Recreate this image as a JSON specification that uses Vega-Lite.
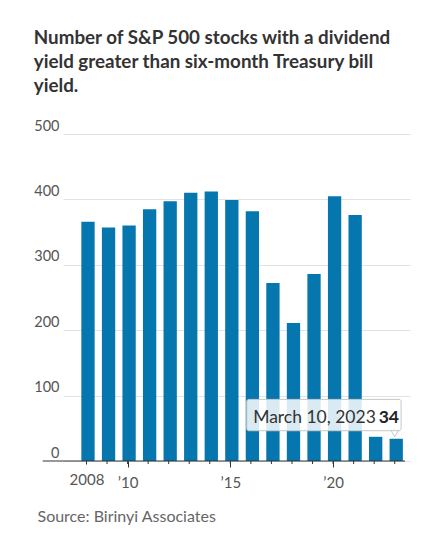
{
  "$schema": "https://vega.github.io/schema/vega-lite/v6.json",
  "width": 347,
  "height": 327,
  "autosize": {"type": "none"},
  "padding": {"left": 63, "right": 21, "top": 134, "bottom": 82},
  "background": "white",
  "title": {
    "text": ["Number of S&P 500 stocks with a dividend", "yield greater than six-month Treasury bill", "yield."],
    "anchor": "start",
    "frame": "bounds",
    "font": "Lato",
    "fontSize": 18.8,
    "fontWeight": "bold",
    "color": "#333333",
    "lineHeight": 24,
    "offset": 22
  },
  "config": {"view": {"stroke": null}},
  "datasets": {
    "bars": [
      {"year": 2008, "count": 366},
      {"year": 2009, "count": 357},
      {"year": 2010, "count": 360},
      {"year": 2011, "count": 385},
      {"year": 2012, "count": 397},
      {"year": 2013, "count": 410},
      {"year": 2014, "count": 412},
      {"year": 2015, "count": 399},
      {"year": 2016, "count": 382},
      {"year": 2017, "count": 272},
      {"year": 2018, "count": 211},
      {"year": 2019, "count": 286},
      {"year": 2020, "count": 405},
      {"year": 2021, "count": 376},
      {"year": 2022, "count": 37},
      {"year": 2023, "count": 34}
    ],
    "note": [{"label": "March 10, 2023", "value": "34"}]
  },
  "layer": [
    {
      "data": {"name": "bars"},
      "mark": {"type": "bar", "width": 13.3, "color": "#0676ae", "xOffset": 1.5},
      "encoding": {
        "x": {
          "field": "year",
          "type": "quantitative",
          "scale": {"domain": [2007.1, 2023.5], "nice": false, "zero": false},
          "axis": {
            "values": [2008, 2010, 2015, 2020],
            "format": "d",
            "labelExpr": "datum.label == '2008' ? '2008' : '’' + slice(datum.label, 2)",
            "domain": false,
            "grid": false,
            "tickSize": {"condition": {"test": "datum.value == 2008", "value": 3}, "value": 6},
            "tickColor": "#333333",
            "labelFont": "Lato",
            "labelFontSize": 15,
            "labelColor": "#555555",
            "labelBaseline": "alphabetic",
            "labelPadding": 20,
            "labelFlush": false,
            "labelOverlap": false,
            "title": "Source: Birinyi Associates",
            "titleFont": "Lato",
            "titleAnchor": "start",
            "titleAlign": "left",
            "titleBaseline": "alphabetic",
            "titleX": -26,
            "titleY": 60.5,
            "titleFontSize": 16,
            "titleFontWeight": "normal",
            "titleColor": "#666666"
          }
        },
        "y": {
          "field": "count",
          "type": "quantitative",
          "scale": {"domain": [0, 500], "nice": false},
          "axis": {
            "values": [0, 100, 200, 300, 400, 500],
            "ticks": false,
            "domain": false,
            "labelFont": "Lato",
            "labelAlign": "right",
            "labelPadding": 4,
            "labelBaseline": "alphabetic",
            "labelOffset": -4,
            "labelFontSize": 14.5,
            "labelColor": "#555555",
            "gridColor": "#e2e2e2",
            "title": null
          }
        }
      }
    },
    {
      "data": {"values": [{}]},
      "mark": {"type": "rule", "color": "#333333", "strokeWidth": 1},
      "encoding": {
        "x": {"datum": 2005.87},
        "x2": {"datum": 2023.5},
        "y": {"datum": 0}
      }
    },
    {
      "data": {"name": "bars"},
      "mark": {"type": "tick", "orient": "vertical", "size": 3, "thickness": 1, "color": "#333333", "opacity": 1, "yOffset": 1.5},
      "encoding": {
        "x": {"field": "year", "type": "quantitative"},
        "y": {"datum": 0}
      }
    },
    {
      "data": {"name": "note"},
      "mark": {"type": "point", "shape": "triangle-down", "filled": true, "fill": "white", "stroke": "#c8c8c8", "strokeWidth": 1, "opacity": 1, "size": 70},
      "encoding": {
        "x": {"datum": 2023.0},
        "y": {"datum": 42.5}
      }
    },
    {
      "data": {"name": "note"},
      "mark": {"type": "rect", "fill": "white", "fillOpacity": 0.85, "stroke": "#c8c8c8", "strokeWidth": 1, "cornerRadius": 2},
      "encoding": {
        "x": {"datum": 2015.8},
        "x2": {"datum": 2023.31},
        "y": {"datum": 94.2},
        "y2": {"datum": 46.3}
      }
    },
    {
      "data": {"name": "note"},
      "mark": {"type": "text", "align": "right", "baseline": "alphabetic", "font": "Lato", "fontSize": 17.5, "color": "#333333"},
      "encoding": {
        "text": {"field": "label"},
        "x": {"datum": 2022.08},
        "y": {"datum": 58.5}
      }
    },
    {
      "data": {"name": "note"},
      "mark": {"type": "text", "align": "left", "baseline": "alphabetic", "font": "Lato", "fontSize": 17.5, "fontWeight": "bold", "color": "#222222"},
      "encoding": {
        "text": {"field": "value"},
        "x": {"datum": 2022.22},
        "y": {"datum": 58.5}
      }
    }
  ]
}
